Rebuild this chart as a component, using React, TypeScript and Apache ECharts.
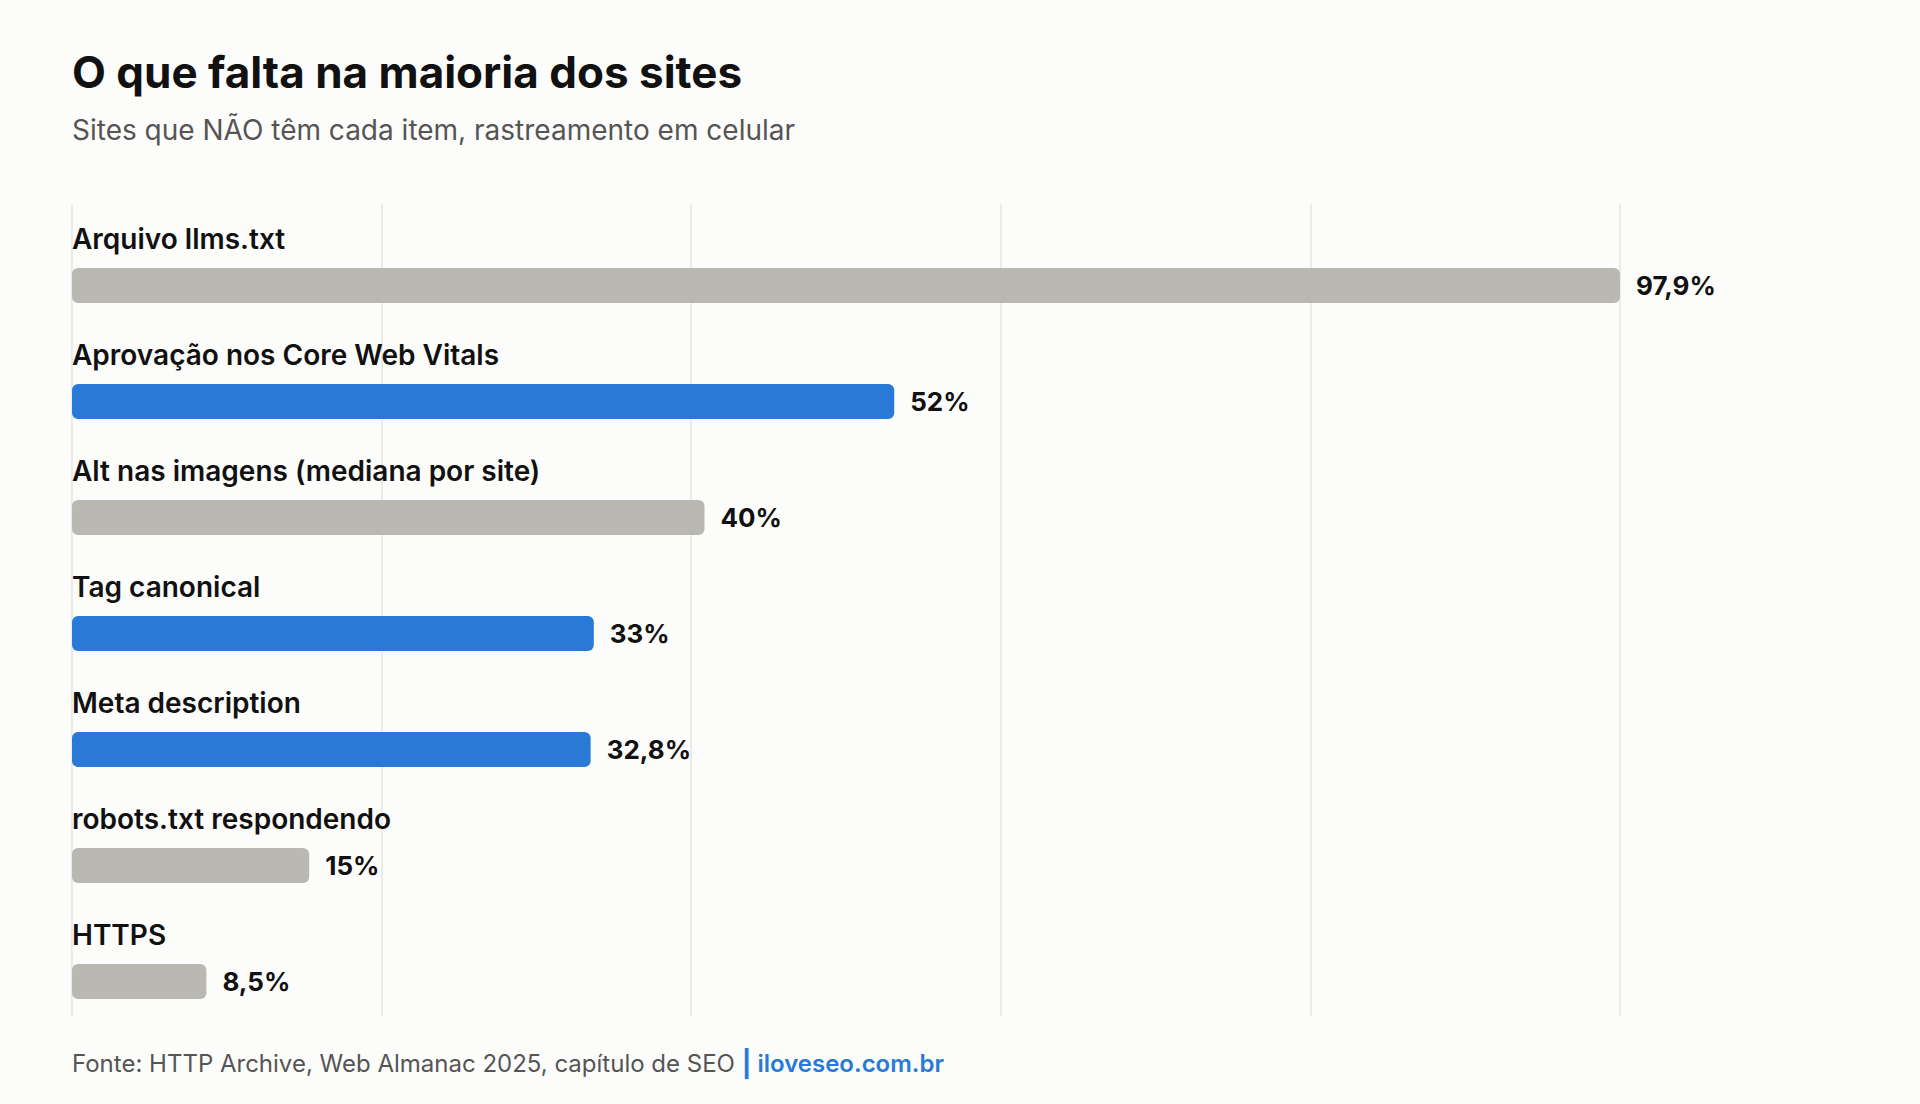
import * as echarts from "echarts";
import { useEffect, useRef } from "react";

const CATEGORIES = [
  "Arquivo llms.txt",
  "Aprovação nos Core Web Vitals",
  "Alt nas imagens (mediana por site)",
  "Tag canonical",
  "Meta description",
  "robots.txt respondendo",
  "HTTPS",
];
const MISSING = [97.9, 52, 40, 33, 32.8, 15, 8.5];
const HIGHLIGHT = [false, true, false, true, true, false, false];
const X_MAX = 97.9;
const GRID_STEPS = 5;

const INK = "#111111";
const MUTED = "#555555";
const LINE = "#e6e6e4";
const BLUE = "#2979d6";
const GRAY = "#b9b8b3";
const BG = "#fcfcfa";
const FONT = "Inter, 'Noto Sans', sans-serif";

const pct = (v: number) => String(v).replace(".", ",") + "%";

function buildOption(): echarts.EChartsOption {
  const barData = MISSING.map((v, i) => ({
    value: v,
    itemStyle: { color: HIGHLIGHT[i] ? BLUE : GRAY },
  }));

  return {
    animation: false,
    backgroundColor: BG,
    textStyle: { fontFamily: FONT },
    graphic: [
      {
        type: "text",
        style: {
          text: "O que falta na maioria dos sites",
          x: 72,
          y: 72,
          fill: INK,
          font: `700 44px ${FONT}`,
          verticalAlign: "middle",
        },
      },
      {
        type: "text",
        style: {
          text: "Sites que NÃO têm cada item, rastreamento em celular",
          x: 72,
          y: 130,
          fill: MUTED,
          font: `400 28px ${FONT}`,
          verticalAlign: "middle",
        },
      },
      {
        type: "text",
        style: {
          text: "{a|Fonte: HTTP Archive, Web Almanac 2025, capítulo de SEO }{b||}{c| iloveseo.com.br}",
          x: 72,
          y: 1063,
          verticalAlign: "middle",
          rich: {
            a: { fill: MUTED, font: `400 24px ${FONT}` },
            b: { fill: BLUE, font: `700 26px ${FONT}` },
            c: { fill: BLUE, font: `600 24px ${FONT}` },
          },
        },
      },
    ] as any,
    grid: [
      { left: 72, top: 227.5, width: 1548, height: 812 },
      { left: 72, top: 204, width: 1548, height: 812 },
    ],
    xAxis: [
      { type: "value", gridIndex: 0, min: 0, max: X_MAX, show: false },
      {
        type: "value",
        gridIndex: 1,
        min: 0,
        max: GRID_STEPS,
        interval: 1,
        axisLine: { show: false },
        axisTick: { show: false },
        axisLabel: { show: false },
        splitLine: { show: true, lineStyle: { color: LINE, width: 1.5 } },
      },
    ],
    yAxis: [
      { type: "category", gridIndex: 0, data: CATEGORIES, inverse: true, show: false },
      { type: "value", gridIndex: 1, show: false },
    ],
    series: [
      {
        type: "bar",
        xAxisIndex: 0,
        yAxisIndex: 0,
        data: barData,
        barWidth: 35,
        itemStyle: { borderRadius: 6 },
        label: {
          show: true,
          position: "right",
          distance: 16,
          formatter: (p: any) => pct(p.value),
          color: INK,
          fontFamily: FONT,
          fontSize: 26,
          fontWeight: 700,
        },
        silent: true,
      },
      {
        type: "bar",
        xAxisIndex: 0,
        yAxisIndex: 0,
        data: MISSING,
        barWidth: 35,
        barGap: "-100%",
        itemStyle: { color: "rgba(0,0,0,0)" },
        label: {
          show: true,
          position: [0, -29.5],
          align: "left",
          verticalAlign: "middle",
          formatter: (p: any) => CATEGORIES[p.dataIndex],
          color: INK,
          fontFamily: FONT,
          fontSize: 28,
          fontWeight: 600,
        },
        silent: true,
      },
    ],
  };
}

export default function App() {
  const ref = useRef<HTMLDivElement>(null);

  useEffect(() => {
    document.body.style.margin = "0";
    const el = ref.current;
    if (!el) return;
    const chart = echarts.init(el, null, { renderer: "svg" });
    chart.setOption(buildOption());
    return () => chart.dispose();
  }, []);

  return <div ref={ref} style={{ width: 1920, height: 1104, background: BG }} />;
}
